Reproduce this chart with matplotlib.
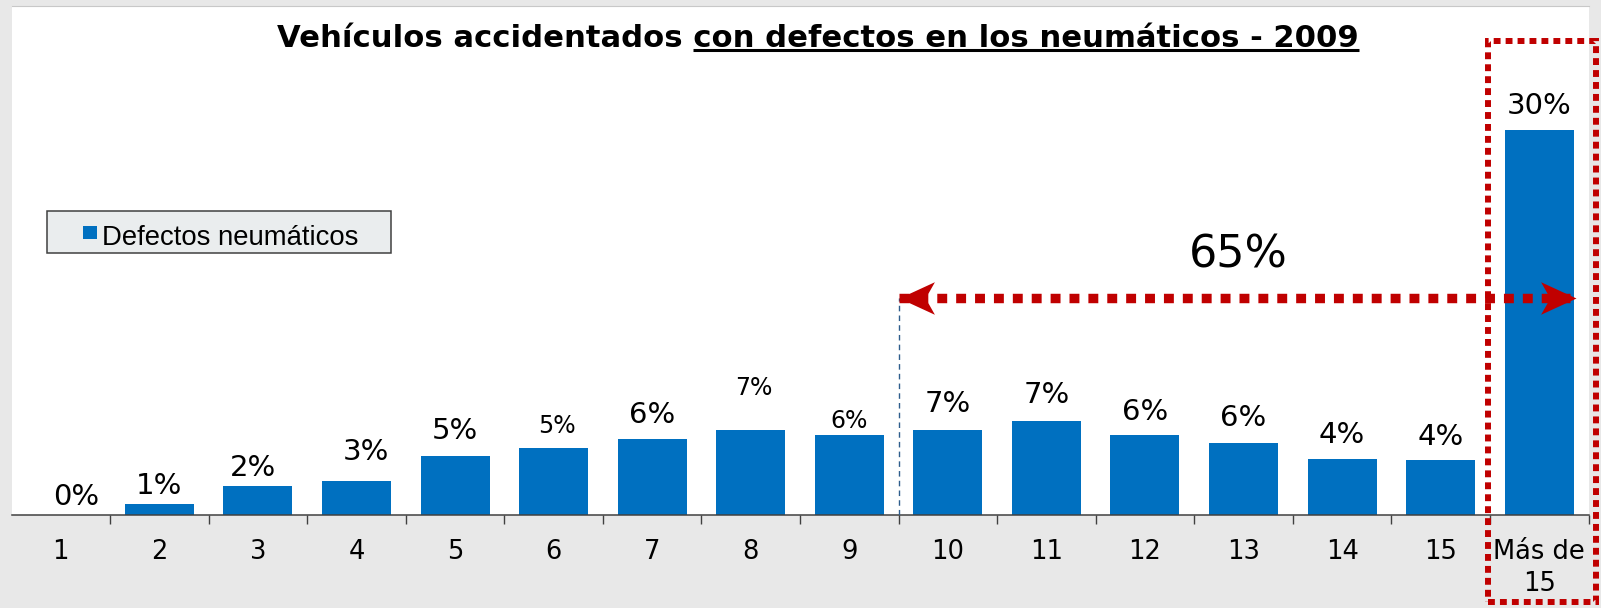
import matplotlib
matplotlib.use('Agg')
import matplotlib.pyplot as plt
import matplotlib.transforms as mtrans
from matplotlib.path import Path
from matplotlib.patches import Rectangle
from matplotlib.lines import Line2D

# ---------------- data ----------------
categories = ['1', '2', '3', '4', '5', '6', '7', '8', '9', '10', '11', '12',
              '13', '14', '15', 'Más de\n15']
values = [0.0, 0.85, 2.25, 2.65, 4.6, 5.25, 5.95, 6.65, 6.25, 6.65, 7.35,
          6.25, 5.65, 4.35, 4.25, 30.0]
value_labels = ['0%', '1%', '2%', '3%', '5%', '5%', '6%', '7%', '6%', '7%',
                '7%', '6%', '6%', '4%', '4%', '30%']
series_name = 'Defectos neumáticos'
title_plain = 'Vehículos accidentados '
title_underlined = 'con defectos en los neumáticos - 2009'
bracket_text = '65%'
bracket_from = 8.5     # boundary between categories 9 and 10
bracket_to = 15.37
bracket_level = 16.9

# ---------------- label placement (style) ----------------
label_dy_px = [10, 10, 10, 21, 17, 15, 16, 35, 7, 18, 18, 15, 17, 16, 15, 16]
label_dx_px = [15, 0, -5, 9, 0, 3, 0, 3, 0, 0, 0, 0, 0, 0, 0, 0]
label_small = [False, False, False, False, False, True, False, True, True,
               False, False, False, False, False, False, False]

W, H = 1601, 608
BLUE = '#0070c0'
RED = '#c00000'

fig = plt.figure(figsize=(W / 100, H / 100), dpi=100, facecolor='#e8e8e8')
ax = fig.add_axes([11.5 / W, 93 / H, 1577 / W, 509 / H])
ax.set_facecolor('white')

x = list(range(len(categories)))
ax.bar(x, values, width=0.7, color=BLUE, edgecolor='none', zorder=2)
ax.set_xlim(-0.5, 15.5)
ax.set_ylim(0, 39.67)

for i, (v, lab) in enumerate(zip(values, value_labels)):
    ax.annotate(lab, (i, v), xytext=(label_dx_px[i], label_dy_px[i]),
                textcoords='offset pixels', ha='center', va='baseline',
                fontsize=17 if label_small[i] else 21, color='black',
                family='DejaVu Sans', zorder=4)

# axis styling
ax.set_xticks(x)
ax.set_xticklabels(categories, fontsize=18.5, linespacing=1.3,
                   family='DejaVu Sans')
ax.tick_params(axis='x', which='major', length=0, pad=17)
ax.set_xticks([i + 0.5 for i in x], minor=True)
ax.tick_params(axis='x', which='minor', length=6.5, width=1.0,
               color='#404040', direction='out')
ax.set_yticks([])
for s in ('left', 'right'):
    ax.spines[s].set_visible(False)
ax.spines['top'].set_color('#c8c8c8')
ax.spines['top'].set_linewidth(0.8)
ax.spines['bottom'].set_color('#404040')
ax.spines['bottom'].set_linewidth(1.1)

# blue dashed vertical marker
ax.plot([bracket_from, bracket_from], [0, bracket_level], color='#2e5d8c',
        lw=1.0, dashes=(4, 3), zorder=3)

# red dotted double arrow
ax.plot([bracket_from, bracket_to], [bracket_level, bracket_level],
        color=RED, lw=6.8, dashes=(1.05, 0.95), solid_capstyle='butt',
        dash_capstyle='butt', zorder=5)
head_l = Path([(0, 0), (1, 0.46), (0.74, 0), (1, -0.46), (0, 0)],
              [Path.MOVETO, Path.LINETO, Path.LINETO, Path.LINETO,
               Path.CLOSEPOLY])
head_r = Path([(0, 0), (-1, 0.46), (-0.74, 0), (-1, -0.46), (0, 0)],
              [Path.MOVETO, Path.LINETO, Path.LINETO, Path.LINETO,
               Path.CLOSEPOLY])
ax.plot([bracket_from], [bracket_level], marker=head_l, markersize=51,
        color=RED, markeredgewidth=0, linestyle='none', zorder=6)
ax.plot([bracket_to], [bracket_level], marker=head_r, markersize=51,
        color=RED, markeredgewidth=0, linestyle='none', zorder=6)
ax.text(11.95, 19.28, bracket_text, ha='center', va='baseline', fontsize=32,
        family='DejaVu Sans', color='black', zorder=6)

# red dotted highlight box around the last category
blend = mtrans.blended_transform_factory(ax.transData, fig.transFigure)
box = Rectangle((14.48, 1 - 602 / H), 1.10, (602 - 41) / H, transform=blend,
                fill=False, edgecolor=RED, lw=4.3, linestyle=(0, (1.15, 0.85)),
                clip_on=False, zorder=7)
fig.add_artist(box)

# legend box (manual)
def fx(px):
    return px / W

def fy(py):
    return 1 - py / H

fig.add_artist(Rectangle((fx(46.7), fy(253.3)), (390.7 - 46.7) / W,
                         (253.3 - 210.7) / H, transform=fig.transFigure,
                         facecolor='#eaedee', edgecolor='#404040', lw=1.1))
fig.add_artist(Rectangle((fx(83), fy(238.5)), 14 / W, 12.8 / H,
                         transform=fig.transFigure, facecolor=BLUE,
                         edgecolor='none'))
fig.text(fx(101.5), fy(245), series_name, ha='left', va='baseline',
         fontsize=19.8, family='Liberation Sans', color='black')

# title with underlined part, fitted to the reference width
full_title = title_plain + title_underlined
base_fs = 22.5
t = fig.text(fx(818), fy(47), full_title, ha='center', va='baseline',
             fontsize=base_fs, fontweight='bold', family='DejaVu Sans',
             color='black')
fig.canvas.draw()
renderer = fig.canvas.get_renderer()
w0 = t.get_window_extent(renderer).width
fs = base_fs * 1081.0 / w0
t.set_fontsize(fs)
fig.canvas.draw()
bb = t.get_window_extent(renderer)
tmp = fig.text(0, 0, title_underlined, fontsize=fs, fontweight='bold',
               family='DejaVu Sans')
wsuf = tmp.get_window_extent(renderer).width
tmp.remove()
uy = H - 50
fig.add_artist(Line2D([bb.x1 - wsuf, bb.x1], [uy, uy],
                      transform=mtrans.IdentityTransform(), lw=2.2,
                      color='black', solid_capstyle='butt'))

fig.savefig('out.png', dpi=100, facecolor=fig.get_facecolor())
